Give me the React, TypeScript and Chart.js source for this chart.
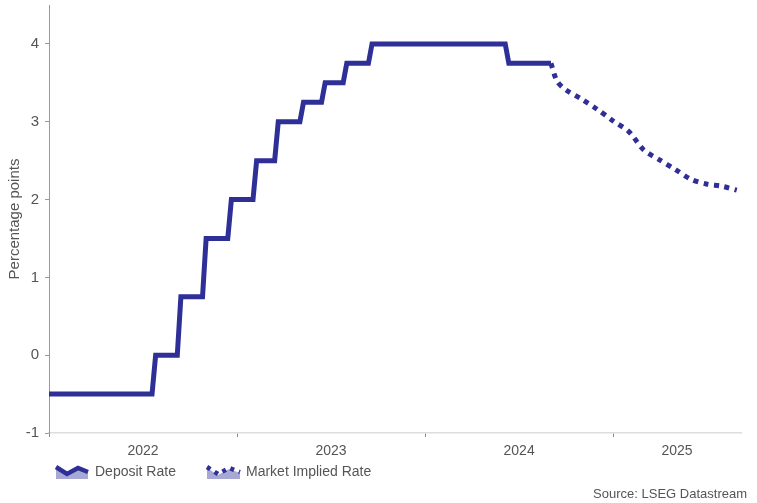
import React, { useEffect, useRef } from "react";
import { Chart, registerables } from "chart.js";

Chart.register(...registerables);

// ---- Data ----
const depositStartDate = "2022-01-01";
const depositStartRate = -0.5;
const rateChangeDates = [
  "2022-07-27", "2022-09-14", "2022-11-02", "2022-12-21", "2023-02-08",
  "2023-03-22", "2023-05-10", "2023-06-21", "2023-08-02", "2023-09-20", "2024-06-12",
];
const rateLevels = [0, 0.75, 1.5, 2.0, 2.5, 3.0, 3.25, 3.5, 3.75, 4.0, 3.75];
const depositEndDate = "2024-09-02";

const impliedDates = [
  "2024-09-02", "2024-09-14", "2024-10-01", "2024-11-01", "2024-12-01", "2025-01-01",
  "2025-02-01", "2025-03-01", "2025-04-01", "2025-05-01", "2025-06-01", "2025-07-01",
  "2025-08-01", "2025-08-29",
];
const impliedRates = [3.75, 3.52, 3.41, 3.29, 3.16, 3.01, 2.87, 2.64, 2.51, 2.39, 2.26, 2.2, 2.17, 2.12];

const yearBoundaries = [2022, 2023, 2024, 2025];
const yearLabels = ["2022", "2023", "2024", "2025"];
const yTicks = [-1, 0, 1, 2, 3, 4];

const seriesNames = ["Deposit Rate", "Market Implied Rate"];
const sourceText = "Source: LSEG Datastream";

// ---- Helpers ----
const LINE = "#2f2f98";
const TEXT = "#555";
const FONT = "'Liberation Sans', Arial, sans-serif";

function toYear(d: string): number {
  const [y, m, day] = d.split("-").map(Number);
  const start = Date.UTC(y, 0, 1);
  const end = Date.UTC(y + 1, 0, 1);
  return y + (Date.UTC(y, m - 1, day) - start) / (end - start);
}

const X_MIN = 2022;
const X_MAX = 2025.68;

function buildDeposit() {
  const pts: { x: number; y: number }[] = [{ x: toYear(depositStartDate), y: depositStartRate }];
  let prev = depositStartRate;
  const week = 7 / 365;
  rateChangeDates.forEach((d, i) => {
    const t = toYear(d);
    pts.push({ x: t - week, y: prev });
    pts.push({ x: t, y: rateLevels[i] });
    prev = rateLevels[i];
  });
  pts.push({ x: toYear(depositEndDate), y: prev });
  return pts;
}

const legendPlugin = {
  id: "customLegend",
  afterDraw(chart: any) {
    const ctx = chart.ctx as CanvasRenderingContext2D;
    ctx.save();
    // Deposit Rate icon
    const z1 = [[56, 467], [67, 474], [78, 468], [88, 472]];
    ctx.fillStyle = "rgba(47,47,152,0.42)";
    ctx.beginPath();
    ctx.moveTo(z1[0][0], z1[0][1]);
    z1.slice(1).forEach((p) => ctx.lineTo(p[0], p[1]));
    ctx.lineTo(88, 479);
    ctx.lineTo(56, 479);
    ctx.closePath();
    ctx.fill();
    ctx.strokeStyle = LINE;
    ctx.lineWidth = 4.5;
    ctx.lineJoin = "miter";
    ctx.beginPath();
    ctx.moveTo(z1[0][0], z1[0][1]);
    z1.slice(1).forEach((p) => ctx.lineTo(p[0], p[1]));
    ctx.stroke();

    // Market Implied Rate icon
    const z2 = [[207, 467], [218, 474], [229, 468], [240, 472]];
    ctx.fillStyle = "rgba(47,47,152,0.42)";
    ctx.beginPath();
    ctx.moveTo(z2[0][0], z2[0][1] + 1);
    z2.slice(1).forEach((p) => ctx.lineTo(p[0], p[1] + 1));
    ctx.lineTo(240, 479);
    ctx.lineTo(207, 479);
    ctx.closePath();
    ctx.fill();
    ctx.strokeStyle = LINE;
    ctx.lineWidth = 4.5;
    ctx.setLineDash([4, 5]);
    ctx.beginPath();
    ctx.moveTo(z2[0][0], z2[0][1]);
    z2.slice(1).forEach((p) => ctx.lineTo(p[0], p[1]));
    ctx.stroke();
    ctx.setLineDash([]);

    ctx.fillStyle = TEXT;
    ctx.font = `14px ${FONT}`;
    ctx.textBaseline = "middle";
    ctx.textAlign = "left";
    ctx.fillText(seriesNames[0], 95, 472);
    ctx.fillText(seriesNames[1], 246, 472);

    ctx.font = `13px ${FONT}`;
    ctx.textAlign = "right";
    ctx.fillText(sourceText, 747, 494);
    ctx.restore();
  },
};

export default function App() {
  const ref = useRef<HTMLCanvasElement | null>(null);

  useEffect(() => {
    if (!ref.current) return;
    const labelTicks = [
      (yearBoundaries[0] + yearBoundaries[1]) / 2,
      (yearBoundaries[1] + yearBoundaries[2]) / 2,
      (yearBoundaries[2] + yearBoundaries[3]) / 2,
      (yearBoundaries[3] + X_MAX) / 2,
    ];
    const chart = new Chart(ref.current, {
      type: "line",
      data: {
        datasets: [
          {
            label: seriesNames[0],
            data: buildDeposit(),
            borderColor: LINE,
            borderWidth: 5,
            pointRadius: 0,
            fill: false,
            tension: 0,
          },
          {
            label: seriesNames[1],
            data: impliedDates.map((d, i) => ({ x: toYear(d), y: impliedRates[i] })),
            borderColor: LINE,
            borderWidth: 5,
            borderDash: [5, 5.5],
            borderCapStyle: "butt",
            pointRadius: 0,
            fill: false,
            tension: 0.3,
          },
        ],
      },
      options: {
        responsive: false,
        animation: false,
        layout: { padding: { top: 5, right: 16, left: 0, bottom: 0 } },
        plugins: { legend: { display: false }, tooltip: { enabled: false } },
        scales: {
          x: {
            type: "linear",
            min: X_MIN,
            max: X_MAX,
            afterFit: (s: any) => {
              s.height = 70;
              s.paddingLeft = 0;
              s.paddingRight = 0;
            },
            afterBuildTicks: (s: any) => {
              const all = [...yearBoundaries, ...labelTicks].sort((a, b) => a - b);
              s.ticks = all.map((v) => ({ value: v }));
            },
            border: { color: "#ddd", width: 1.5 },
            grid: {
              drawOnChartArea: false,
              tickLength: 4,
              tickColor: (c: any) =>
                c.tick && yearBoundaries.includes(c.tick.value) ? "#888" : "rgba(0,0,0,0)",
            },
            ticks: {
              autoSkip: false,
              maxRotation: 0,
              padding: 6,
              color: TEXT,
              font: { size: 14, family: FONT },
              callback: (v: any) => {
                const idx = labelTicks.findIndex((t) => Math.abs(t - Number(v)) < 1e-6);
                return idx >= 0 ? yearLabels[idx] : "";
              },
            },
          },
          y: {
            min: -1,
            max: 4.5,
            afterFit: (s: any) => {
              s.width = 49;
              s.paddingTop = 0;
              s.paddingBottom = 0;
            },
            afterBuildTicks: (s: any) => {
              s.ticks = yTicks.map((v) => ({ value: v }));
            },
            border: { color: "#999", width: 1 },
            grid: { drawOnChartArea: false, tickLength: 4, tickColor: "#999" },
            ticks: {
              padding: 6,
              color: TEXT,
              font: { size: 15, family: FONT },
            },
            title: {
              display: true,
              text: "Percentage points",
              color: TEXT,
              font: { size: 15, family: FONT },
              padding: { top: 6, bottom: 0 },
            },
          },
        },
      },
      plugins: [legendPlugin],
    });
    return () => chart.destroy();
  }, []);

  return (
    <div style={{ position: "fixed", left: 0, top: 0, width: 757, height: 503, background: "#fff" }}>
      <canvas ref={ref} width={757} height={503} />
    </div>
  );
}
